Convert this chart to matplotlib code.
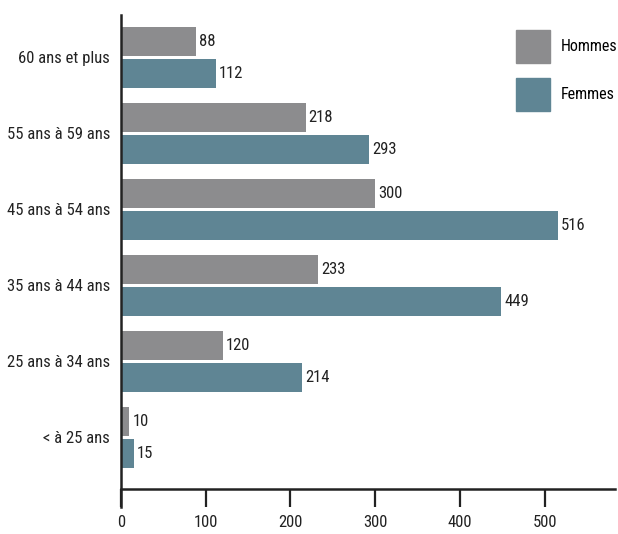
import matplotlib
matplotlib.use("Agg")
import matplotlib.pyplot as plt
from matplotlib import font_manager
from matplotlib.patches import Patch

categories = ["< à 25 ans", "25 ans à 34 ans", "35 ans à 44 ans",
              "45 ans à 54 ans", "55 ans à 59 ans", "60 ans et plus"]
hommes = [10, 120, 233, 300, 218, 88]
femmes = [15, 214, 449, 516, 293, 112]
xticks = [0, 100, 200, 300, 400, 500]

names = {f.name for f in font_manager.fontManager.ttflist}
fam = [n for n in ["Liberation Sans Narrow", "Roboto Condensed", "Open Sans Condensed"] if n in names]
plt.rcParams['font.family'] = fam + ['Liberation Sans', 'DejaVu Sans']

c_h = "#8c8c8e"
c_f = "#5f8594"

fig = plt.figure(figsize=(6.18, 5.34), dpi=100)
ax = fig.add_axes([121/618, 45/534, (615-121)/618, (489-15)/534])

ys = list(range(len(categories)))
off = 0.21
h = 0.38
ax.barh([y + off for y in ys], hommes, height=h, color=c_h)
ax.barh([y - off for y in ys], femmes, height=h, color=c_f)

for y, v in zip(ys, hommes):
    ax.text(v + 3.5, y + off, str(v), va='center', ha='left', fontsize=12, color='#222222')
for y, v in zip(ys, femmes):
    ax.text(v + 3.5, y - off, str(v), va='center', ha='left', fontsize=12, color='#222222')

ax.set_xlim(0, 583)
ybot, ytop = -0.678, 5.559
ax.set_ylim(ybot, ytop)
ax.set_yticks(ys)
ax.set_yticklabels(categories, fontsize=12, color='#222222')
ax.tick_params(axis='y', length=0, pad=8)
ax.set_xticks(xticks)
ax.set_xticklabels([str(t) for t in xticks], fontsize=12, color='#222222')
ax.tick_params(axis='x', length=13, width=1.6, pad=6, color='#222222')
for s in ['top', 'right']:
    ax.spines[s].set_visible(False)
for s in ['left', 'bottom']:
    ax.spines[s].set_linewidth(1.8)
    ax.spines[s].set_color('#222222')
ax.spines['left'].set_bounds(ybot - 18/76, ytop)

fs = 11.5
fpx = fs * 100 / 72
hh = (33 / fpx - 0.245) / 0.65
handles = [Patch(color=c_h, label="Hommes"), Patch(color=c_f, label="Femmes")]
fig.legend(handles=handles, loc='upper left', bbox_to_anchor=(516/618, 1 - 30/534),
           frameon=False, fontsize=fs, borderpad=0, borderaxespad=0,
           handlelength=34/fpx, handleheight=hh,
           labelspacing=15/fpx, handletextpad=11/fpx)

fig.savefig("out.png", dpi=100)
